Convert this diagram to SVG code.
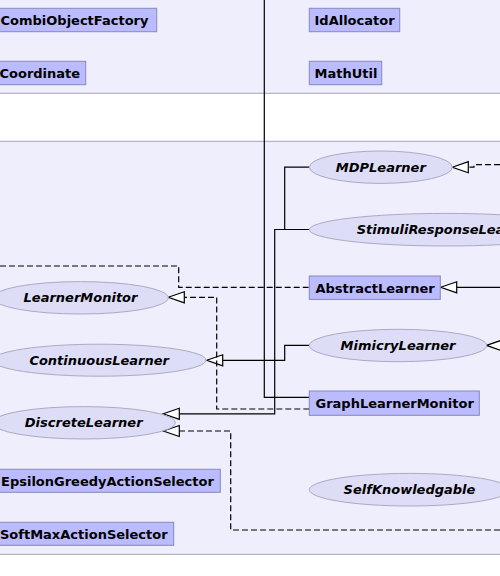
<svg xmlns="http://www.w3.org/2000/svg" width="500" height="576" viewBox="0 0 500 576">
<style>
.pkg{fill:#EEEEFC;stroke:#A4A4B8;stroke-width:1}
.box{fill:#BBBBFF;stroke:#8888BB;stroke-width:1}
.ell{fill:#DDDDF8;stroke:#AAAAC4;stroke-width:1}
.t{font-family:"DejaVu Sans",sans-serif;font-weight:bold;font-size:13px;fill:#000}
.ti{font-family:"DejaVu Sans",sans-serif;font-weight:bold;font-style:italic;font-size:13px;fill:#000;text-anchor:middle}
.e{fill:none;stroke:#000;stroke-width:1.2}
.d{fill:none;stroke:#000;stroke-width:1.2;stroke-dasharray:6,3}
.ah{fill:#fff;stroke:#000;stroke-width:1.2}
</style>
<rect x="0" y="0" width="500" height="576" fill="#fff"/>
<g id="packages">
<rect class="pkg" x="-10" y="-10" width="520" height="103.3"/>
<rect class="pkg" x="-10" y="141.3" width="520" height="413"/>
</g>
<g id="connectors">
<polyline class="e" points="264.3,0 264.3,397.3 309.3,397.3"/>
<polyline class="e" points="309.3,167.2 284.7,167.2 284.7,229.5"/>
<polyline class="e" points="309.3,229.5 274.7,229.5 274.7,413.8 179.3,413.8"/>
<polygon class="ah" points="163.3,413.8 179.3,408.3 179.3,419.3"/>
<polyline class="e" points="309.3,345.4 284.7,345.4 284.7,360.3 222.7,360.3"/>
<polygon class="ah" points="206.7,360.3 222.7,354.8 222.7,365.8"/>
<polyline class="d" points="0,266 178.7,266 178.7,287.3 309.3,287.3"/>
<polyline class="d" points="309.3,409 216.7,409 216.7,297.3 184.3,297.3"/>
<polygon class="ah" points="168.3,297.3 184.3,291.8 184.3,302.8"/>
<polyline class="d" points="500,530 230.7,530 230.7,431 179.3,431"/>
<polygon class="ah" points="163.3,431 179.3,425.5 179.3,436.5"/>
<polyline class="d" points="500,164.7 474,164.7 474,167.2 468.3,167.2"/>
<polygon class="ah" points="452.3,167.2 468.3,161.7 468.3,172.7"/>
<polyline class="e" points="456.7,287.3 500,287.3"/>
<polygon class="ah" points="440.7,287.3 456.7,281.8 456.7,292.8"/>
<polyline class="e" points="502,345.4 510,345.4"/>
<polygon class="ah" points="486.5,345.4 502.5,339.9 502.5,350.9"/>
</g>
<g id="CombiObjectFactory"><rect class="box" x="-6" y="8.3" width="162.7" height="23.4"/><text class="t" x="0.5" y="25">CombiObjectFactory</text></g>
<g id="Coordinate"><rect class="box" x="-6" y="61.3" width="91.7" height="23.4"/><text class="t" x="-0.5" y="78">Coordinate</text></g>
<g id="IdAllocator"><rect class="box" x="309.3" y="8.3" width="90.4" height="23.4"/><text class="t" x="314.5" y="25">IdAllocator</text></g>
<g id="MathUtil"><rect class="box" x="309.3" y="61.3" width="72.4" height="23.4"/><text class="t" x="314.5" y="78">MathUtil</text></g>
<g id="MDPLearner"><ellipse class="ell" cx="380.8" cy="167.2" rx="71.5" ry="16.2"/><text class="ti" x="380.8" y="171.8">MDPLearner</text></g>
<g id="StimuliResponseLearner"><ellipse class="ell" cx="446" cy="229.7" rx="136.7" ry="16.3"/><text class="ti" x="446" y="234.3">StimuliResponseLearner</text></g>
<g id="AbstractLearner"><rect class="box" x="309.3" y="276" width="131" height="23.4"/><text class="t" x="315.5" y="292.7">AbstractLearner</text></g>
<g id="LearnerMonitor"><ellipse class="ell" cx="80.5" cy="297.8" rx="87.8" ry="16.2"/><text class="ti" x="80.5" y="302.4">LearnerMonitor</text></g>
<g id="MimicryLearner"><ellipse class="ell" cx="398" cy="345.5" rx="88.7" ry="16.2"/><text class="ti" x="398" y="350.1">MimicryLearner</text></g>
<g id="ContinuousLearner"><ellipse class="ell" cx="99.2" cy="360.2" rx="106.8" ry="16"/><text class="ti" x="99.2" y="364.8">ContinuousLearner</text></g>
<g id="GraphLearnerMonitor"><rect class="box" x="309.3" y="391" width="170" height="24.3"/><text class="t" x="315.5" y="408">GraphLearnerMonitor</text></g>
<g id="DiscreteLearner"><ellipse class="ell" cx="83.7" cy="422.8" rx="91.6" ry="16.2"/><text class="ti" x="83.7" y="427.4">DiscreteLearner</text></g>
<g id="EpsilonGreedyActionSelector"><rect class="box" x="-6" y="469.3" width="226.3" height="23"/><text class="t" x="1" y="486">EpsilonGreedyActionSelector</text></g>
<g id="SelfKnowledgable"><ellipse class="ell" cx="409.5" cy="489.7" rx="100.2" ry="16.3"/><text class="ti" x="409.5" y="494.3">SelfKnowledgable</text></g>
<g id="SoftMaxActionSelector"><rect class="box" x="-6" y="522.3" width="179.7" height="23"/><text class="t" x="0" y="539">SoftMaxActionSelector</text></g>
</svg>
